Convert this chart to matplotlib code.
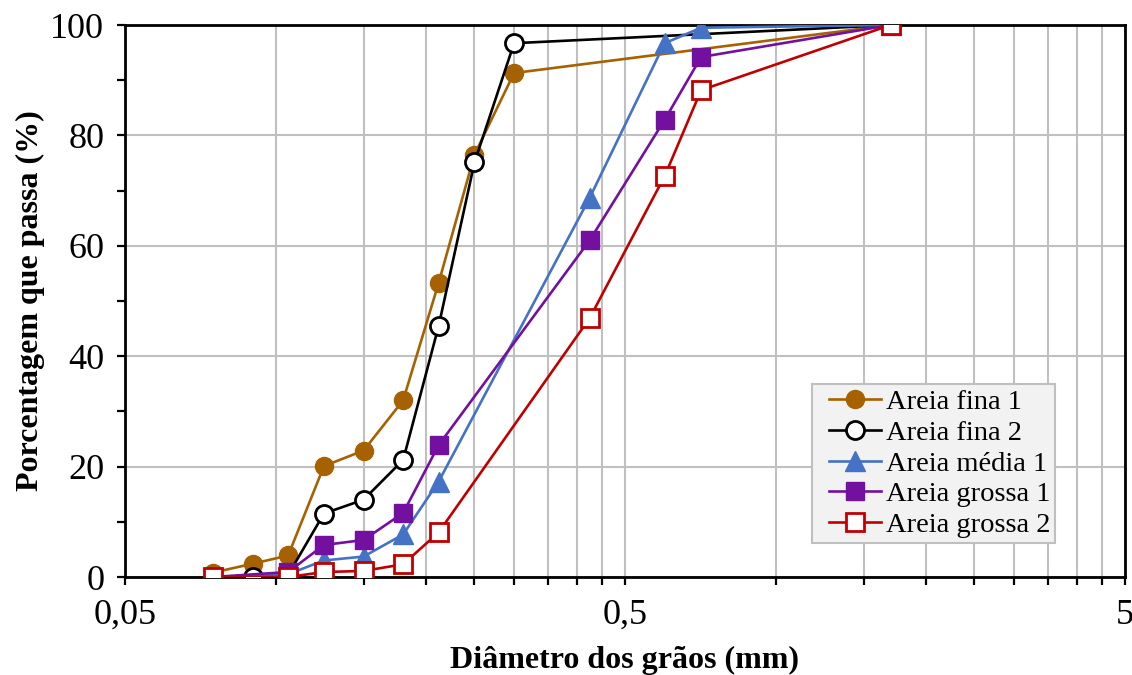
import matplotlib
matplotlib.use("Agg")
import matplotlib.pyplot as plt
from matplotlib.lines import Line2D
from matplotlib.legend_handler import HandlerLine2D
from matplotlib.ticker import FixedLocator, FixedFormatter, NullFormatter, MultipleLocator

# Sieve openings (mm)
d_fina1 = [0.075, 0.09, 0.106, 0.125, 0.15, 0.18, 0.212, 0.25, 0.3, 1.7]
p_fina1 = [0.8, 2.4, 3.9, 20.1, 22.9, 32.0, 53.3, 76.5, 91.3, 100.0]

d_fina2 = [0.09, 0.106, 0.125, 0.15, 0.18, 0.212, 0.25, 0.3, 1.7]
p_fina2 = [0.0, 0.4, 11.5, 14.0, 21.2, 45.5, 75.1, 96.7, 100.0]

d_media1 = [0.075, 0.106, 0.125, 0.15, 0.18, 0.212, 0.425, 0.6, 0.71, 1.7]
p_media1 = [0.0, 0.5, 3.0, 3.7, 7.7, 17.3, 68.7, 96.7, 99.5, 100.0]

d_grossa1 = [0.075, 0.106, 0.125, 0.15, 0.18, 0.212, 0.425, 0.6, 0.71, 1.7]
p_grossa1 = [0.0, 0.9, 5.8, 6.7, 11.6, 23.9, 61.0, 82.8, 94.2, 100.0]

d_grossa2 = [0.075, 0.106, 0.125, 0.15, 0.18, 0.212, 0.425, 0.6, 0.71, 1.7]
p_grossa2 = [0.0, 0.0, 0.9, 1.1, 2.3, 8.1, 46.9, 72.6, 88.2, 100.0]

labels = ["Areia fina 1", "Areia fina 2", "Areia média 1", "Areia grossa 1", "Areia grossa 2"]
x_major = [0.05, 0.5, 5]
x_major_labels = ["0,05", "0,5", "5"]

plt.rcParams["font.family"] = ["Liberation Serif", "DejaVu Serif"]

fig = plt.figure(figsize=(11.32, 6.75), dpi=100)
ax = fig.add_axes([125 / 1132, 1 - 577 / 675, 1000 / 1132, 552 / 675])

lw = 1.9
ax.plot(d_fina1, p_fina1, color="#A66200", lw=lw, marker="o", ms=13,
        mfc="#A66200", mec="#A66200", label=labels[0], zorder=3)
ax.plot(d_fina2, p_fina2, color="black", lw=lw, marker="o", ms=13,
        mfc="white", mec="black", mew=2.0, label=labels[1], zorder=3)
ax.plot(d_media1, p_media1, color="#4472C4", lw=lw, marker="^", ms=14.5,
        mfc="#4472C4", mec="#4472C4", label=labels[2], zorder=3)
ax.plot(d_grossa1, p_grossa1, color="#7410A0", lw=lw, marker="s", ms=12.5,
        mfc="#7410A0", mec="#7410A0", label=labels[3], zorder=3)
ax.plot(d_grossa2, p_grossa2, color="#C00000", lw=lw, marker="s", ms=12.5,
        mfc="white", mec="#C00000", mew=2.0, label=labels[4], zorder=3)

ax.set_xscale("log")
ax.set_xlim(0.05, 5)
ax.set_ylim(0, 100)

minor_x = [0.05 * k for k in range(2, 10)] + [0.5 * k for k in range(2, 10)]
ax.xaxis.set_major_locator(FixedLocator(x_major))
ax.xaxis.set_major_formatter(FixedFormatter(x_major_labels))
ax.xaxis.set_minor_locator(FixedLocator(minor_x))
ax.xaxis.set_minor_formatter(NullFormatter())
ax.yaxis.set_major_locator(MultipleLocator(20))
ax.yaxis.set_minor_locator(MultipleLocator(10))

ax.grid(True, which="both", axis="x", color="#c0c0c0", lw=1.5, zorder=0)
ax.grid(True, which="major", axis="y", color="#c0c0c0", lw=1.5, zorder=0)
ax.set_axisbelow(True)

for s in ax.spines.values():
    s.set_linewidth(2.0)
    s.set_color("black")

ax.tick_params(axis="both", which="both", direction="out", length=6, width=1.6,
               labelsize=26)
ax.tick_params(axis="y", which="both", right=False, pad=9)
ax.tick_params(axis="x", which="both", top=False, pad=10)

ax.set_xlabel("Diâmetro dos grãos (mm)", fontsize=23, fontweight="bold", labelpad=10)
ax.set_ylabel("Porcentagem que passa (%)", fontsize=23, fontweight="bold", labelpad=4)

leg = ax.legend(loc="lower left", bbox_to_anchor=(0.687, 0.0616), fontsize=20.5,
                frameon=True, fancybox=False, framealpha=1, facecolor="#f2f2f2",
                edgecolor="#bfbfbf", handlelength=2.24, handletextpad=0.18,
                labelspacing=0.17, borderpad=0.17, borderaxespad=0,
                handler_map={Line2D: HandlerLine2D(xpad=0.41)})
leg.get_frame().set_linewidth(1.5)

fig.savefig("out.png", dpi=100)
